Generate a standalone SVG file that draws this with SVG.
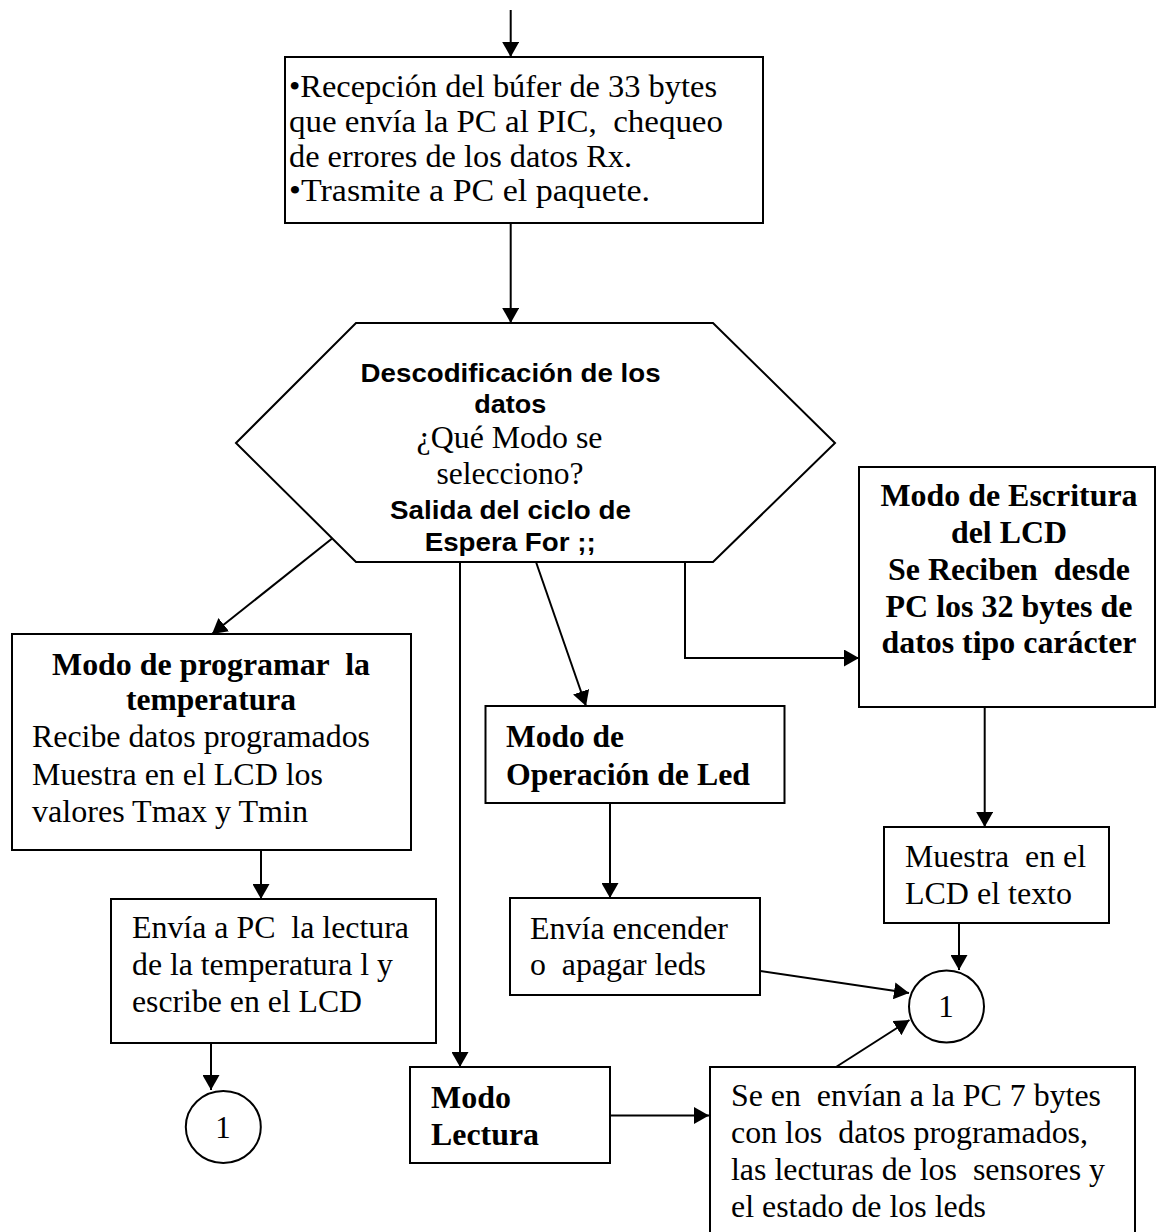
<svg xmlns="http://www.w3.org/2000/svg" width="1157" height="1232" viewBox="0 0 1157 1232" xml:space="preserve">
<defs>
<marker id="arr" markerUnits="userSpaceOnUse" markerWidth="16" markerHeight="17" refX="15" refY="8.5" orient="auto">
<path d="M0,0 L15,8.5 L0,17 z" fill="#000"/>
</marker>
<style>
.box{fill:#fff;stroke:#000;stroke-width:2}
.ln{fill:none;stroke:#000;stroke-width:2;marker-end:url(#arr)}
text{white-space:pre}
.t{font-family:"Liberation Serif","Times New Roman",serif;font-size:31px;fill:#000}
.tb{font-family:"Liberation Serif","Times New Roman",serif;font-size:31px;font-weight:bold;fill:#000}
.ab{font-family:"Liberation Sans",Arial,sans-serif;font-size:26px;font-weight:bold;fill:#000}
.c{text-anchor:middle}
</style>
</defs>
<rect width="1157" height="1232" fill="#fff"/>
<g id="connectors">
<line class="ln" x1="510.7" y1="10" x2="510.7" y2="57"/>
<line class="ln" x1="510.7" y1="223" x2="510.7" y2="323"/>
<line class="ln" x1="334" y1="537" x2="212" y2="634"/>
<line class="ln" x1="460" y1="562" x2="460" y2="1067"/>
<line class="ln" x1="536" y1="562" x2="586" y2="706"/>
<polyline class="ln" points="685,562 685,658 859,658"/>
<line class="ln" x1="261" y1="851" x2="261" y2="899"/>
<line class="ln" x1="610" y1="803" x2="610" y2="898"/>
<line class="ln" x1="984.7" y1="707" x2="984.7" y2="827"/>
<line class="ln" x1="211" y1="1043" x2="211" y2="1090"/>
<line class="ln" x1="760" y1="971" x2="909" y2="993"/>
<line class="ln" x1="959" y1="923" x2="959" y2="970"/>
<line class="ln" x1="610" y1="1115.5" x2="709" y2="1115.5"/>
<line class="ln" x1="836" y1="1067" x2="909.5" y2="1020"/>
</g>
<g id="recepcion">
<rect class="box" x="285" y="57" width="478" height="166"/>
<text class="t" x="289" y="97" textLength="428" lengthAdjust="spacingAndGlyphs">•Recepción del búfer de 33 bytes</text>
<text class="t" x="289" y="132" textLength="434" lengthAdjust="spacingAndGlyphs">que envía la PC al PIC,  chequeo</text>
<text class="t" x="289" y="167" textLength="343" lengthAdjust="spacingAndGlyphs">de errores de los datos Rx.</text>
<text class="t" x="289" y="201" textLength="361" lengthAdjust="spacingAndGlyphs">•Trasmite a PC el paquete.</text>
</g>
<g id="descodificacion">
<polygon class="box" points="236,443 356,323 713,323 835,443 713,562 356,562"/>
<text class="ab c" x="510.6" y="382" textLength="300" lengthAdjust="spacingAndGlyphs">Descodificación de los</text>
<text class="ab c" x="510.3" y="413" textLength="72" lengthAdjust="spacingAndGlyphs">datos</text>
<text class="t c" x="509.5" y="448" textLength="186" lengthAdjust="spacingAndGlyphs">¿Qué Modo se</text>
<text class="t c" x="510" y="484" textLength="147" lengthAdjust="spacingAndGlyphs">selecciono?</text>
<text class="ab c" x="510.5" y="519" textLength="241" lengthAdjust="spacingAndGlyphs">Salida del ciclo de</text>
<text class="ab c" x="510.2" y="551" textLength="171" lengthAdjust="spacingAndGlyphs">Espera For ;;</text>
</g>
<g id="modo-programar">
<rect class="box" x="12" y="634" width="399" height="216"/>
<text class="tb c" x="211" y="675" textLength="318" lengthAdjust="spacingAndGlyphs">Modo de programar  la</text>
<text class="tb c" x="211" y="710" textLength="170" lengthAdjust="spacingAndGlyphs">temperatura</text>
<text class="t" x="32" y="747" textLength="338" lengthAdjust="spacingAndGlyphs">Recibe datos programados</text>
<text class="t" x="32" y="785" textLength="291" lengthAdjust="spacingAndGlyphs">Muestra en el LCD los</text>
<text class="t" x="32" y="822" textLength="276" lengthAdjust="spacingAndGlyphs">valores Tmax y Tmin</text>
</g>
<g id="envia-pc">
<rect class="box" x="111" y="899" width="325" height="144"/>
<text class="t" x="132" y="938" textLength="277" lengthAdjust="spacingAndGlyphs">Envía a PC  la lectura</text>
<text class="t" x="132" y="975" textLength="261" lengthAdjust="spacingAndGlyphs">de la temperatura l y</text>
<text class="t" x="132" y="1012" textLength="230" lengthAdjust="spacingAndGlyphs">escribe en el LCD</text>
</g>
<g id="conector-izq">
<ellipse class="box" cx="223.3" cy="1127" rx="37.5" ry="36"/>
<text class="t c" x="223" y="1138">1</text>
</g>
<g id="modo-led">
<rect class="box" x="485.5" y="706" width="299" height="97"/>
<text class="tb" x="506" y="747" textLength="118" lengthAdjust="spacingAndGlyphs">Modo de</text>
<text class="tb" x="506" y="785" textLength="244" lengthAdjust="spacingAndGlyphs">Operación de Led</text>
</g>
<g id="envia-leds">
<rect class="box" x="510" y="898" width="250" height="97"/>
<text class="t" x="530" y="939" textLength="198" lengthAdjust="spacingAndGlyphs">Envía encender</text>
<text class="t" x="530" y="975" textLength="176" lengthAdjust="spacingAndGlyphs">o  apagar leds</text>
</g>
<g id="modo-escritura">
<rect class="box" x="859" y="467" width="296" height="240"/>
<text class="tb c" x="1009" y="506" textLength="257" lengthAdjust="spacingAndGlyphs">Modo de Escritura</text>
<text class="tb c" x="1009" y="543" textLength="116" lengthAdjust="spacingAndGlyphs">del LCD</text>
<text class="tb c" x="1009" y="580" textLength="242" lengthAdjust="spacingAndGlyphs">Se Reciben  desde</text>
<text class="tb c" x="1009" y="617" textLength="247" lengthAdjust="spacingAndGlyphs">PC los 32 bytes de</text>
<text class="tb c" x="1009" y="653" textLength="255" lengthAdjust="spacingAndGlyphs">datos tipo carácter</text>
</g>
<g id="muestra-lcd">
<rect class="box" x="884" y="827" width="225" height="96"/>
<text class="t" x="905" y="867" textLength="181" lengthAdjust="spacingAndGlyphs">Muestra  en el</text>
<text class="t" x="905" y="904" textLength="167" lengthAdjust="spacingAndGlyphs">LCD el texto</text>
</g>
<g id="conector-der">
<ellipse class="box" cx="946.5" cy="1006.5" rx="37.5" ry="36"/>
<text class="t c" x="946" y="1017">1</text>
</g>
<g id="modo-lectura">
<rect class="box" x="410" y="1067" width="200" height="96"/>
<text class="tb" x="431" y="1108" textLength="80" lengthAdjust="spacingAndGlyphs">Modo</text>
<text class="tb" x="431" y="1145" textLength="108" lengthAdjust="spacingAndGlyphs">Lectura</text>
</g>
<g id="envia-bytes">
<rect class="box" x="710" y="1067" width="425" height="200"/>
<text class="t" x="731" y="1106" textLength="370" lengthAdjust="spacingAndGlyphs">Se en  envían a la PC 7 bytes</text>
<text class="t" x="731" y="1143" textLength="357" lengthAdjust="spacingAndGlyphs">con los  datos programados,</text>
<text class="t" x="731" y="1180" textLength="374" lengthAdjust="spacingAndGlyphs">las lecturas de los  sensores y</text>
<text class="t" x="731" y="1217" textLength="255" lengthAdjust="spacingAndGlyphs">el estado de los leds</text>
</g>
</svg>
